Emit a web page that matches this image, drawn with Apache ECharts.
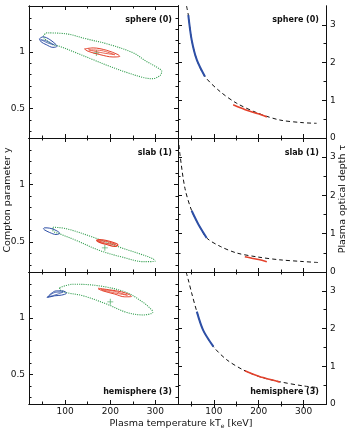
<!DOCTYPE html>
<html>
<head>
<meta charset="utf-8">
<script src="https://cdn.jsdelivr.net/npm/echarts@6/dist/echarts.min.js"></script>
<style>
  html, body { margin: 0; padding: 0; background: #fff; }
  #chart { width: 349px; height: 430px; }
</style>
</head>
<body>
<div id="chart"></div>
<script>
// axis ranges and ticks
const xMin = 20, xMax = 350;
const xMajor = [100, 200, 300];
const xMinor = [50, 150, 250];
const yMin = 0.24, yMax = 1.405;
const yMajor = [0.5, 1];
const yMinor = [0.3, 0.4, 0.6, 0.7, 0.8, 0.9, 1.1, 1.2, 1.3, 1.4];
const tauMin = 0, tauMax = 3.5;
const tauMajor = [0, 1, 2, 3];
const tauMinor = [0.5, 1.5, 2.5];

const geometries = ['sphere (0)', 'slab (1)', 'hemisphere (3)'];

// left panels: confidence contours [kTe, y]
const sphereBlue = [[43,1.115],[51,1.133],[66,1.109],[80,1.064],[82,1.049],[73,1.04],[58,1.064],[47,1.088],[43,1.115]];
const sphereBlueIn = [[46,1.108],[60,1.095],[76,1.062],[62,1.078],[46,1.108]];
const sphereRed = [[143,1.026],[162,1.035],[192,1.014],[217,0.976],[221,0.961],[206,0.955],[177,0.976],[151,1.005],[143,1.026]];
const sphereRedIn = [[152,1.018],[180,1.012],[210,0.975],[182,0.992],[152,1.018]];
const sphereGreen = [[58,1.168],[103,1.159],[147,1.115],[199,1.064],[251,0.991],[280,0.916],[306,0.858],[314,0.828],[310,0.79],[292,0.763],[273,0.774],[236,0.819],[199,0.872],[162,0.931],[125,0.991],[88,1.049],[70,1.07],[52,1.14],[58,1.168]];
const sphereBest = [[169,0.99]];

const slabBlue = [[52,0.615],[54,0.624],[66,0.621],[80,0.601],[88,0.577],[80,0.566],[66,0.583],[54,0.607],[52,0.615]];
const slabRed = [[169,0.515],[175,0.522],[192,0.514],[212,0.49],[217,0.475],[210,0.463],[192,0.479],[175,0.5],[169,0.515]];
const slabRedIn = [[172,0.512],[192,0.505],[212,0.48],[192,0.488],[172,0.512]];
const slabGreen = [[73,0.63],[103,0.616],[162,0.542],[221,0.455],[266,0.397],[295,0.354],[299,0.333],[273,0.33],[228,0.368],[177,0.426],[125,0.514],[88,0.572],[73,0.6],[73,0.63]];
const slabBest = [[188,0.45]];

const hemiBlue = [[60,1.18],[69,1.215],[80,1.238],[95,1.238],[103,1.218],[92,1.201],[77,1.195],[66,1.185],[60,1.18]];
const hemiBlueIn = [[62,1.185],[78,1.225],[96,1.228],[80,1.205],[62,1.185]];
const hemiRed = [[173,1.262],[199,1.247],[225,1.23],[243,1.204],[247,1.189],[232,1.186],[210,1.21],[184,1.238],[173,1.256]];
const hemiRedIn = [[180,1.25],[205,1.238],[238,1.2],[210,1.22],[180,1.25]];
const hemiGreen = [[88,1.267],[117,1.297],[177,1.282],[236,1.224],[273,1.136],[292,1.07],[294,1.049],[273,1.026],[236,1.049],[192,1.122],[140,1.195],[103,1.224],[88,1.253],[88,1.267]];
const hemiBest = [[200,1.142]];

// right panels: tau(kTe) curves [kTe, tau]
const sphereTau = [[39,3.5],[43,3.26],[50.5,2.6],[62,2.07],[80,1.63],[114,1.23],[151,0.92],[199,0.655],[247,0.477],[299,0.406],[329,0.39]];
const sphereTauBlue = [[43,3.26],[50.5,2.6],[62,2.07],[80,1.63]];
const sphereTauRed = [[143,0.88],[170,0.75],[199,0.64],[218,0.56]];

const slabTau = [[20.7,3.5],[24.5,3.06],[35.6,2.18],[50.5,1.6],[65.3,1.25],[84,0.89],[114,0.67],[151,0.496],[199,0.39],[247,0.318],[299,0.273],[333,0.247]];
const slabTauBlue = [[50.5,1.6],[65.3,1.25],[84,0.89]];
const slabTauRed = [[169,0.4],[185,0.36],[200,0.325],[218,0.27]];

const hemiTau = [[38,3.5],[43,3.29],[50.5,2.94],[62,2.45],[76,1.96],[99,1.52],[129,1.17],[166,0.9],[203,0.72],[247,0.59],[299,0.48],[329,0.44]];
const hemiTauBlue = [[62,2.45],[76,1.96],[99,1.52]];
const hemiTauRed = [[169,0.88],[203,0.72],[247,0.58]];

const BLUE = '#2d4fa6', RED = '#e4412b', GREEN = '#36a052', INK = '#111';
const FONT = 'DejaVu Sans';

const chart = echarts.init(document.getElementById('chart'), null, { renderer: 'canvas' });

const grids = [
  { left: 29, top: 6, width: 149, height: 132 },
  { left: 178, top: 6, width: 148, height: 132 },
  { left: 29, top: 138, width: 149, height: 134 },
  { left: 178, top: 138, width: 148, height: 134 },
  { left: 29, top: 272, width: 149, height: 132 },
  { left: 178, top: 272, width: 148, height: 132 }
];

const xAxes = [], yAxes = [];
const line = { show: true, lineStyle: { color: INK, width: 1 } };

function axis(kind, g, pos, min, max, ticks, len, labels) {
  return {
    type: 'value', gridIndex: g, position: pos, min: min, max: max,
    axisLine: line,
    axisTick: { show: true, inside: true, length: len, customValues: ticks, lineStyle: { color: INK, width: 1 } },
    axisLabel: labels ? { show: true, customValues: ticks, color: INK, fontSize: 9, fontFamily: FONT, margin: kind === 'x' ? 3 : 4 } : { show: false },
    splitLine: { show: false }
  };
}

grids.forEach((gr, g) => {
  const isLeft = g % 2 === 0;
  const row = Math.floor(g / 2);
  xAxes.push(axis('x', g, 'bottom', xMin, xMax, xMajor, 4, row === 2));
  xAxes.push(axis('x', g, 'bottom', xMin, xMax, xMinor, 2.5, false));
  xAxes.push(axis('x', g, 'top', xMin, xMax, xMajor, 4, false));
  xAxes.push(axis('x', g, 'top', xMin, xMax, xMinor, 2.5, false));
  const lo = isLeft ? yMin : tauMin, hi = isLeft ? yMax : tauMax;
  const maj = isLeft ? yMajor : tauMajor, mnr = isLeft ? yMinor : tauMinor;
  yAxes.push(axis('y', g, 'left', lo, hi, maj, 4, isLeft));
  yAxes.push(axis('y', g, 'left', lo, hi, mnr, 2.5, false));
  yAxes.push(axis('y', g, 'right', lo, hi, maj, 4, !isLeft));
  yAxes.push(axis('y', g, 'right', lo, hi, mnr, 2.5, false));
});

function curve(g, data, color, width, type, smooth) {
  return {
    type: 'line', xAxisIndex: g * 4, yAxisIndex: g * 4, data: data,
    showSymbol: false, smooth: smooth, silent: true, clip: true,
    lineStyle: { color: color, width: width, type: type }
  };
}
function best(g, data) {
  return {
    type: 'scatter', xAxisIndex: g * 4, yAxisIndex: g * 4, data: data, silent: true,
    symbol: 'path://M-0.7,-5H0.7V-0.7H5V0.7H0.7V5H-0.7V0.7H-5V-0.7H-0.7Z',
    symbolSize: 6, itemStyle: { color: GREEN }
  };
}

const series = [
  curve(0, sphereGreen, GREEN, 1.1, 'dotted', 0.35),
  curve(0, sphereBlue, BLUE, 1, 'solid', 0.35),
  curve(0, sphereBlueIn, BLUE, 0.8, 'solid', 0.35),
  curve(0, sphereRed, RED, 1, 'solid', 0.35),
  curve(0, sphereRedIn, RED, 0.8, 'solid', 0.35),
  best(0, sphereBest),
  curve(1, sphereTau, INK, 1, [4, 3], 0.3),
  curve(1, sphereTauBlue, BLUE, 2, 'solid', 0.3),
  curve(1, sphereTauRed, RED, 1.6, 'solid', 0.3),

  curve(2, slabGreen, GREEN, 1.1, 'dotted', 0.35),
  curve(2, slabBlue, BLUE, 1, 'solid', 0.35),
  curve(2, slabRed, RED, 1.2, 'solid', 0.35),
  curve(2, slabRedIn, RED, 1, 'solid', 0.35),
  best(2, slabBest),
  curve(3, slabTau, INK, 1, [4, 3], 0.3),
  curve(3, slabTauBlue, BLUE, 2, 'solid', 0.3),
  curve(3, slabTauRed, RED, 1.6, 'solid', 0.3),

  curve(4, hemiGreen, GREEN, 1.1, 'dotted', 0.35),
  curve(4, hemiBlue, BLUE, 1, 'solid', 0.35),
  curve(4, hemiBlueIn, BLUE, 0.8, 'solid', 0.35),
  curve(4, hemiRed, RED, 1, 'solid', 0.35),
  curve(4, hemiRedIn, RED, 0.8, 'solid', 0.35),
  best(4, hemiBest),
  curve(5, hemiTau, INK, 1, [4, 3], 0.3),
  curve(5, hemiTauBlue, BLUE, 2, 'solid', 0.3),
  curve(5, hemiTauRed, RED, 1.6, 'solid', 0.3)
];

// panel labels
const labelPos = [
  { x: 172, y: 20 }, { x: 319, y: 20 },
  { x: 172, y: 153 }, { x: 319, y: 153 },
  { x: 172, y: 392 }, { x: 319, y: 392 }
];
const graphic = labelPos.map((p, i) => ({
  type: 'text', x: p.x, y: p.y, silent: true,
  style: {
    text: geometries[Math.floor(i / 2)], fill: INK,
    font: 'bold 8px ' + FONT, textAlign: 'right', textVerticalAlign: 'middle',
    align: 'right', verticalAlign: 'middle'
  }
}));
graphic.push({
  type: 'text', x: 181, y: 424, silent: true,
  style: {
    text: 'Plasma temperature kT{s|e} [keV]', fill: INK, font: '9.5px ' + FONT,
    align: 'center', verticalAlign: 'middle', textAlign: 'center', textVerticalAlign: 'middle',
    rich: { s: { fontSize: 6, fontFamily: FONT, fill: INK, padding: [5, 0, 0, 0] } }
  }
});
graphic.push({
  type: 'text', x: 8, y: 200, rotation: Math.PI / 2, silent: true,
  style: {
    text: 'Compton parameter y', fill: INK, font: '9.5px ' + FONT,
    align: 'center', verticalAlign: 'middle', textAlign: 'center', textVerticalAlign: 'middle'
  }
});
graphic.push({
  type: 'text', x: 343, y: 199, rotation: Math.PI / 2, silent: true,
  style: {
    text: 'Plasma optical depth τ', fill: INK, font: '9.5px ' + FONT,
    align: 'center', verticalAlign: 'middle', textAlign: 'center', textVerticalAlign: 'middle'
  }
});

chart.setOption({
  animation: false,
  backgroundColor: '#fff',
  grid: grids,
  xAxis: xAxes,
  yAxis: yAxes,
  series: series,
  graphic: graphic
});
</script>
</body>
</html>
